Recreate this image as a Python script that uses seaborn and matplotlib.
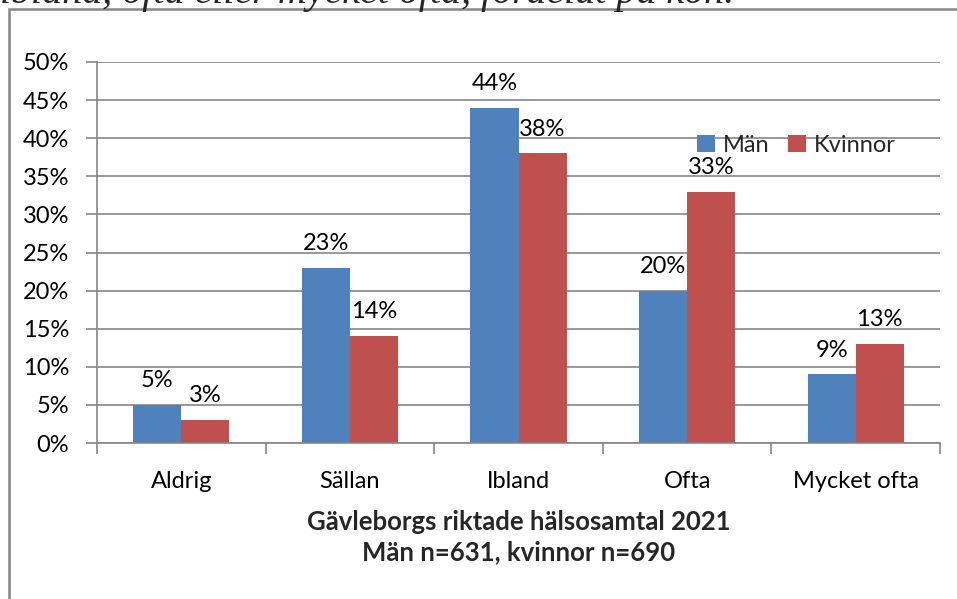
import matplotlib
matplotlib.use("Agg")
import matplotlib.pyplot as plt
import seaborn as sns
import pandas as pd
import numpy as np
from matplotlib.patches import Rectangle
from matplotlib.ticker import FixedLocator

categories = ["Aldrig", "Sällan", "Ibland", "Ofta", "Mycket ofta"]
man = [5, 23, 44, 20, 9]
kvinnor = [3, 14, 38, 33, 13]
series_names = ["Män", "Kvinnor"]
yticks = [0, 5, 10, 15, 20, 25, 30, 35, 40, 45, 50]

df = pd.DataFrame({
    "Kategori": categories * 2,
    "Andel": man + kvinnor,
    "Kön": [series_names[0]] * len(categories) + [series_names[1]] * len(categories),
})

sns.set_theme(style="white")
plt.rcParams["font.family"] = ["Lato", "DejaVu Sans"]

FS = 17
W, H = 957, 599
fig = plt.figure(figsize=(W / 100, H / 100), dpi=100)
ax = fig.add_axes([97 / W, 1 - 443 / H, (940 - 97) / W, (443 - 62) / H])

grid_col = "#868686"
sns.barplot(data=df, x="Kategori", y="Andel", hue="Kön",
            palette=["#4F81BD", "#C0504D"], width=0.57, gap=0,
            saturation=1, linewidth=0, ax=ax, legend=True)

ax.set_ylim(0, 50)
ax.set_xlim(-0.5, len(categories) - 0.5)
ax.set_yticks(yticks)
ax.set_yticklabels([f"{v}%" for v in yticks], fontsize=FS, color="black")
ax.yaxis.grid(True, color=grid_col, linewidth=1.2)
ax.set_axisbelow(True)

for s in ["top", "right"]:
    ax.spines[s].set_visible(False)
for s in ["left", "bottom"]:
    ax.spines[s].set_color(grid_col)
    ax.spines[s].set_linewidth(1.2)

ax.tick_params(axis="y", which="major", direction="out", length=8, width=1.2,
               color=grid_col, left=True, pad=12)
ax.tick_params(axis="x", which="major", length=0, labelsize=FS, pad=20,
               labelcolor="black")
ax.xaxis.set_minor_locator(FixedLocator(np.arange(-0.5, len(categories), 1.0)))
ax.tick_params(axis="x", which="minor", direction="out", length=8, width=1.2,
               color=grid_col, bottom=True)

for cont in ax.containers:
    ax.bar_label(cont, labels=[f"{v:.0f}%" for v in cont.datavalues],
                 padding=10, fontsize=FS, color="black")

ax.set_xlabel("Gävleborgs riktade hälsosamtal 2021\nMän n=631, kvinnor n=690",
              fontsize=18.5, fontweight="bold", labelpad=13, linespacing=1.3)
ax.set_ylabel("")

leg = ax.legend(loc="center right", bbox_to_anchor=((908 - 97) / 843, (443 - 145) / 381),
                ncol=2, frameon=False, fontsize=FS, handlelength=0.75,
                handleheight=0.75, handletextpad=0.35, columnspacing=0.8,
                borderpad=0)
leg.set_title(None)

fig.patches.append(Rectangle((8.5 / W, -0.1), 1.2, 1 - 9 / H + 0.1,
                             transform=fig.transFigure, fill=False,
                             edgecolor=grid_col, linewidth=1.8))

fig.text(0 / W, 1 - 3 / H, "ibland, ofta eller mycket ofta, fördelat på kön.",
         family=["Liberation Serif", "DejaVu Serif"], style="italic",
         fontsize=28.8, ha="left", va="baseline")

fig.savefig("out.png", dpi=100)
